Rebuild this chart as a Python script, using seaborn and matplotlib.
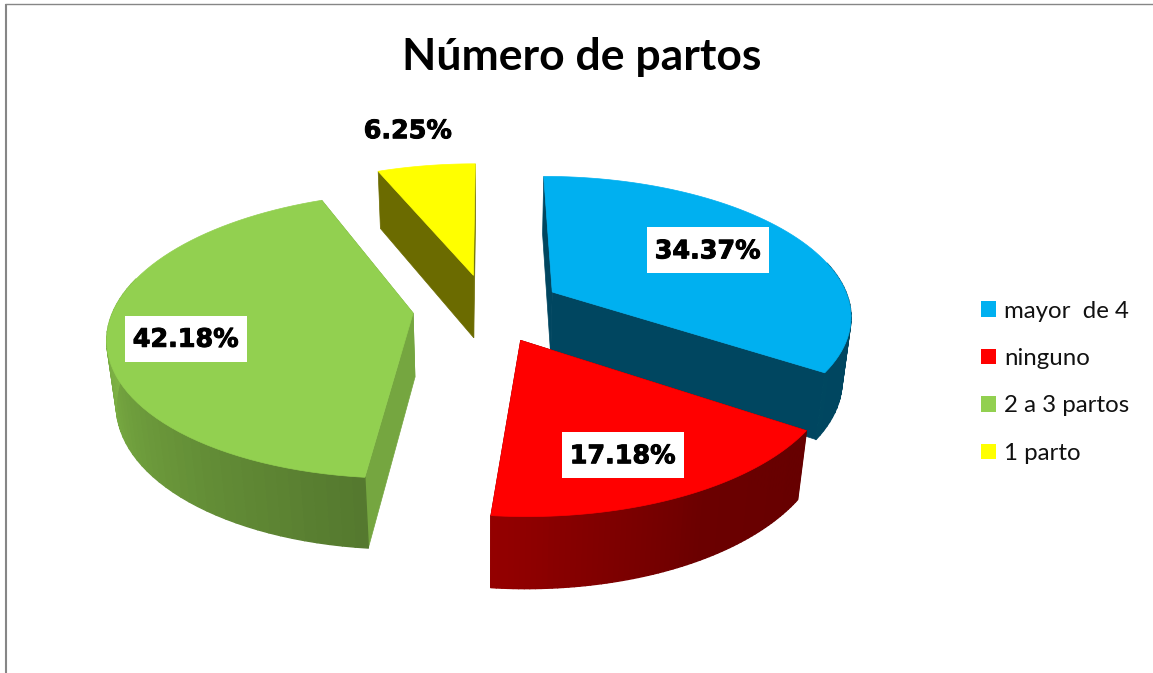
import numpy as np
import matplotlib.pyplot as plt
import matplotlib.patheffects as pe
from matplotlib.collections import PolyCollection
from matplotlib.patches import Patch, Polygon, Rectangle
import seaborn as sns

title = "Número de partos"
categories = ["mayor  de 4", "ninguno", "2 a 3 partos", "1 parto"]
values = [34.37, 17.18, 42.18, 6.25]
labels = ["34.37%", "17.18%", "42.18%", "6.25%"]
colors = ["#00B0F0", "#FF0000", "#92D050", "#FFFF00"]

sns.set_theme(style="white")
plt.rcParams["font.family"] = ["Lato", "DejaVu Sans"]
palette = sns.color_palette(colors)

# fake 3d camera, in pixels
cx, cy = 487.5, 308
sx, sy, depth = 299, 138, 65.5
k, m = 0.154, 0.025
explode = 0.25
start = 0.0


def proj(x, y, z=0.0):
    w = 1 + k * y + m * z
    return cx + sx * x / w, cy - (sy * y - depth * z) / w


def shade(theta):
    # excel style lighting of the side wall, by angle
    return np.interp(theta % 360, [0, 122, 150, 183, 230, 270, 360],
                     [.40, .40, .42, .57, .73, .87, .87])


def scaled(color, f):
    return tuple(np.array(color) * f)


fig, ax = plt.subplots(figsize=(11.53, 6.73), dpi=100)
fig.subplots_adjust(0, 0, 1, 1)
ax.set_xlim(0, 1153)
ax.set_ylim(673, 0)
ax.axis("off")

edges = start + np.cumsum([0] + values) / sum(values) * 360
face_shade = [.40, .40, .80, .42]
label_r = [.65, .75, .75, 1.38]
label_turn = [-1, 2.5, -4.4, -0.5]
order = [3, 0, 2, 1]

for i in order:
    t0, t1 = edges[i], edges[i + 1]
    mid = np.radians((t0 + t1) / 2)
    ox, oy = explode * np.sin(mid), explode * np.cos(mid)
    th = np.linspace(t0, t1, 70)
    rx = ox + np.sin(np.radians(th))
    ry = oy + np.cos(np.radians(th))

    # radial faces
    for t in (t0, t1):
        ex, ey = ox + np.sin(np.radians(t)), oy + np.cos(np.radians(t))
        pts = [proj(ox, oy), proj(ex, ey), proj(ex, ey, 1), proj(ox, oy, 1)]
        col = scaled(palette[i], face_shade[i])
        ax.add_patch(Polygon(pts, closed=True, fc=col, ec=col, lw=.5))

    # outer wall, front part only
    quads, wall = [], []
    for j in range(len(th) - 1):
        if np.cos(np.radians(th[j])) > 0.25:
            continue
        quads.append([proj(rx[j], ry[j]), proj(rx[j + 1], ry[j + 1]),
                      proj(rx[j + 1], ry[j + 1], 1), proj(rx[j], ry[j], 1)])
        wall.append(scaled(palette[i], shade((th[j] + th[j + 1]) / 2)))
    if quads:
        ax.add_collection(PolyCollection(quads, facecolors=wall, edgecolors=wall, linewidths=1.0))

    # top
    top = [proj(ox, oy)] + [proj(a, b) for a, b in zip(rx, ry)]
    ax.add_patch(Polygon(top, closed=True, fc=palette[i], ec=palette[i], lw=.5))

for i in range(len(values)):
    mid = np.radians((edges[i] + edges[i + 1]) / 2 + label_turn[i])
    r = explode + label_r[i]
    tx, ty = proj(r * np.sin(mid), r * np.cos(mid))
    if i < 3:
        ax.add_patch(Rectangle((tx - 61, ty - 24), 122, 46, fc="white", ec="none", zorder=4))
    ax.text(tx, ty, labels[i], ha="center", va="center", color="black", fontsize=18.3,
            fontweight="bold", family="DejaVu Sans", zorder=5,
            path_effects=[pe.withStroke(linewidth=.7, foreground="black")])

ax.text(582, 57, title, ha="center", va="center", fontsize=32, fontweight="bold", color="black")

# chart area border, only left and top show in the crop
ax.vlines(6, 3.5, 673, color="#868686", lw=1.5)
ax.hlines(3.5, 5, 1153, color="#868686", lw=1)

handles = [Patch(fc=c, ec="none") for c in palette]
ax.legend(handles, categories, loc="center left", bbox_to_anchor=(0.832, 0.432), frameon=False,
          fontsize=17.3, handlelength=.625, handleheight=.625, handletextpad=.33, labelspacing=1.1,
          labelcolor="#111111")

plt.savefig("out.png", dpi=100)
